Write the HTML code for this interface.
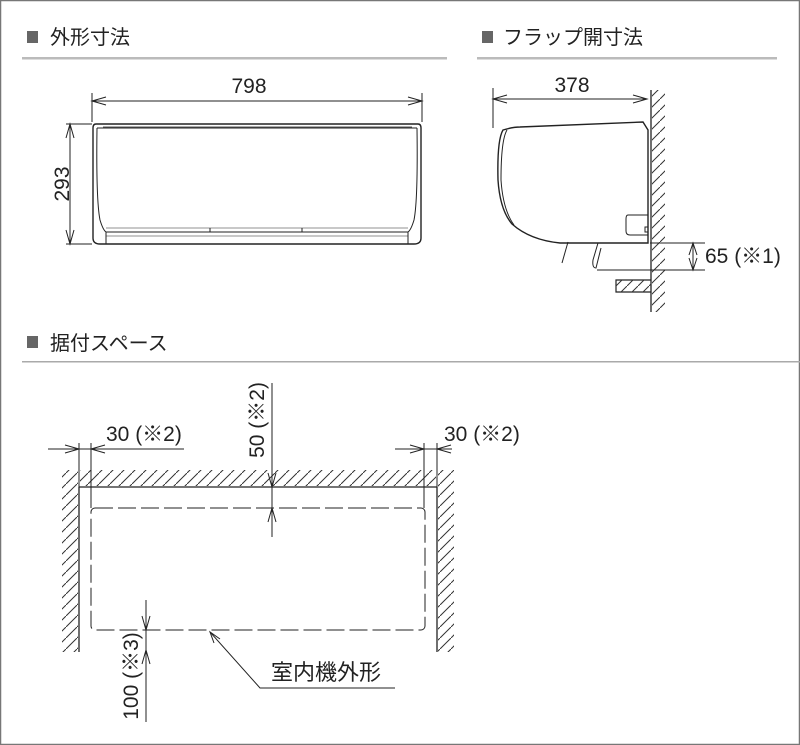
<!DOCTYPE html>
<html><head><meta charset="utf-8"><style>
html,body{margin:0;padding:0;background:#fff}
svg{display:block}
text{font-family:"Liberation Sans Narrow","Liberation Sans","Noto Sans CJK JP",sans-serif;fill:#222}
</style></head><body>
<svg width="800" height="745" viewBox="0 0 800 745" xmlns="http://www.w3.org/2000/svg">
<defs>
<pattern id="h" patternUnits="userSpaceOnUse" width="11" height="11">
<line x1="0" y1="11" x2="11" y2="0" stroke="#333" stroke-width="1"/>
</pattern>
</defs>
<rect x="0.5" y="0.5" width="799" height="744" fill="#fff" stroke="#777" stroke-width="1.5"/>
<!-- headers -->
<rect x="27" y="31" width="11" height="12" fill="#666"/>
<text x="50" y="44" font-size="20">外形寸法</text>
<rect x="22" y="57" width="425" height="2.5" fill="#bbb"/>
<rect x="482" y="31" width="11" height="12" fill="#666"/>
<text x="503" y="44" font-size="20">フラップ開寸法</text>
<rect x="477" y="57" width="300" height="2.5" fill="#bbb"/>
<rect x="27" y="336" width="11" height="12" fill="#666"/>
<text x="50" y="350" font-size="20">据付スペース</text>
<rect x="22" y="361" width="778" height="1.5" fill="#aaa"/>

<g stroke="#222" fill="none" stroke-width="1">
<!-- front view -->
<line x1="92" y1="93" x2="92" y2="122"/><line x1="422" y1="93" x2="422" y2="122"/>
<line x1="92" y1="101" x2="422" y2="101"/>
<polyline points="106,97 92,101 106,105"/><polyline points="408,97 422,101 408,105"/>
<line x1="66" y1="124" x2="92" y2="124"/><line x1="66" y1="244" x2="92" y2="244"/>
<line x1="70" y1="124" x2="70" y2="244"/>
<polyline points="66,138 70,124 74,138"/><polyline points="66,230 70,244 74,230"/>
<path d="M96,124 H418 Q421,124 421,128 V238 Q421,244 414,244 H100 Q93,244 93,238 V128 Q93,124 96,124 Z" stroke-width="1.4"/>
<path d="M97,128 Q96,200 100,220 Q103,230 106,232 V244"/>
<path d="M417,128 Q418,200 414,220 Q411,230 408,232 V244"/>
<line x1="97" y1="128" x2="417" y2="128"/>
<line x1="103" y1="127" x2="412" y2="127" stroke-width="0.8"/>
<line x1="106" y1="232" x2="408" y2="232"/>
<line x1="106" y1="236" x2="408" y2="236" stroke-width="0.6"/>
<line x1="106" y1="228" x2="408" y2="228" stroke-width="0.6"/>
<line x1="210" y1="228" x2="210" y2="232"/><line x1="302" y1="228" x2="302" y2="232"/>

<!-- side view -->
<line x1="493" y1="88" x2="493" y2="128"/>
<line x1="493" y1="99" x2="647" y2="99"/>
<polyline points="507,95 493,99 507,103"/><polyline points="633,95 647,99 633,103"/>
<line x1="651" y1="90" x2="651" y2="312" stroke-width="1.3"/>
<rect x="652" y="90" width="13" height="222" fill="url(#h)" stroke="none"/>
<path d="M503,130 Q513,127 520,127 L643,122 L648,130 V243 L560,243 Q530,240 512,224 Q500,210 498,180 Q497,140 503,130 Z" stroke-width="1.4"/>
<path d="M507,130 Q501,140 501,180 Q503,210 514,225"/>
<path d="M628,215 H648 V227 H645 V232 H648 V235 H630 Q626,235 626,231 V219 Q626,215 628,215 Z"/>
<path d="M568,242 L562,263"/><path d="M598,243 L593,260 Q592,268 596,268 L601,248"/>
<line x1="597" y1="270" x2="705" y2="270"/><line x1="650" y1="243" x2="705" y2="243"/>
<line x1="693" y1="243" x2="693" y2="270"/>
<polyline points="689,255 693,243 697,255"/><polyline points="689,258 693,270 697,258"/>
<path d="M651,280 H616 V292 H651" stroke-width="1.2"/>
<rect x="616" y="280" width="35" height="12" fill="url(#h)" stroke="none"/>

<!-- install space -->
<line x1="79" y1="487" x2="437" y2="487" stroke-width="1.3"/>
<rect x="80" y="470" width="356" height="16" fill="url(#h)" stroke="none"/>
<line x1="79" y1="487" x2="79" y2="652" stroke-width="1.3"/>
<rect x="62" y="470" width="16" height="182" fill="url(#h)" stroke="none"/>
<line x1="437" y1="487" x2="437" y2="652" stroke-width="1.3"/>
<rect x="438" y="470" width="16" height="182" fill="url(#h)" stroke="none"/>
<rect x="91" y="508" width="334" height="122" rx="4" stroke-dasharray="18,5"/>
<line x1="79" y1="443" x2="79" y2="487"/><line x1="91" y1="443" x2="91" y2="508"/>
<line x1="48" y1="449" x2="184" y2="449"/>
<polyline points="65,445 79,449 65,453"/><polyline points="105,445 91,449 105,453"/>
<line x1="424" y1="443" x2="424" y2="508"/><line x1="437" y1="443" x2="437" y2="487"/>
<line x1="395" y1="449" x2="452" y2="449"/>
<polyline points="410,445 424,449 410,453"/><polyline points="451,445 437,449 451,453"/>
<line x1="272" y1="383" x2="272" y2="537"/>
<polyline points="268,473 272,487 276,473"/><polyline points="268,522 272,508 276,522"/>
<line x1="146" y1="600" x2="146" y2="722"/>
<polyline points="142,616 146,630 150,616"/><polyline points="142,664 146,650 150,664"/>
<polyline points="210,632 260,688 395,688"/>
<polyline points="214,643 210,632 220,639"/>
</g>
<g font-size="21">
<text x="249" y="93" text-anchor="middle">798</text>
<text x="0" y="0" transform="translate(62,184) rotate(-90)" text-anchor="middle" dy="7">293</text>
<text x="572" y="92" text-anchor="middle">378</text>
<text x="705" y="263">65 (※1)</text>
<text x="106" y="441">30 (※2)</text>
<text x="444" y="441">30 (※2)</text>
<text x="0" y="0" transform="translate(264,420) rotate(-90)" text-anchor="middle">50 (※2)</text>
<text x="0" y="0" transform="translate(138,676) rotate(-90)" text-anchor="middle">100 (※3)</text>
<text x="271" y="680" font-size="22">室内機外形</text>
</g>
</svg>
</body></html>
